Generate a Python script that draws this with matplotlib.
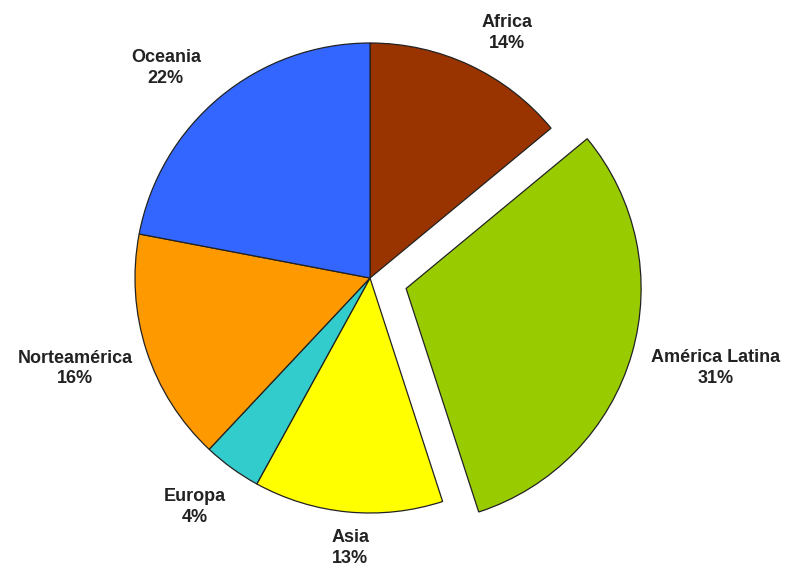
import numpy as np
import matplotlib.pyplot as plt

regions = ['Africa', 'América Latina', 'Asia', 'Europa', 'Norteamérica', 'Oceania']
shares = [14, 31, 13, 4, 16, 22]
colors = ['#993300', '#99CC00', '#FFFF00', '#33CCCC', '#FF9900', '#3366FF']
explode = [0, 0.16, 0, 0, 0, 0]

# label placement: radius factor and small angle tweak (deg) per wedge
label_dist = [1.194, 1.36, 1.152, 1.226, 1.312, 1.246]
label_turn = [-4.0, 1.8, 1.2, -1.4, -1.0, 4.6]

fig = plt.figure(figsize=(7.88, 5.69), dpi=100)
ax = fig.add_axes([0, 0, 1, 1])

cx, cy, r = 370, 569 - 278, 235
wedges, _ = ax.pie(shares, colors=colors, explode=[e * r for e in explode],
                   startangle=90, counterclock=False, center=(cx, cy), radius=r,
                   wedgeprops=dict(edgecolor='#222222', linewidth=0.9),
                   frame=True)
ax.set_xlim(0, 788)
ax.set_ylim(0, 569)
ax.set_aspect('equal')
ax.axis('off')

for w, name, val, d, t, ex in zip(wedges, regions, shares, label_dist, label_turn, explode):
    mid = np.deg2rad((w.theta1 + w.theta2) / 2)
    ang = mid + np.deg2rad(t)
    x = cx + r * ex * np.cos(mid) + r * d * np.cos(ang)
    y = cy + r * ex * np.sin(mid) + r * d * np.sin(ang)
    ax.text(x, y, name + '\n' + str(val) + '%', ha='center', va='center',
            fontsize=13, fontweight='bold', family='Liberation Sans',
            color='#222222', linespacing=1.25)

fig.savefig('out.png', dpi=100)
